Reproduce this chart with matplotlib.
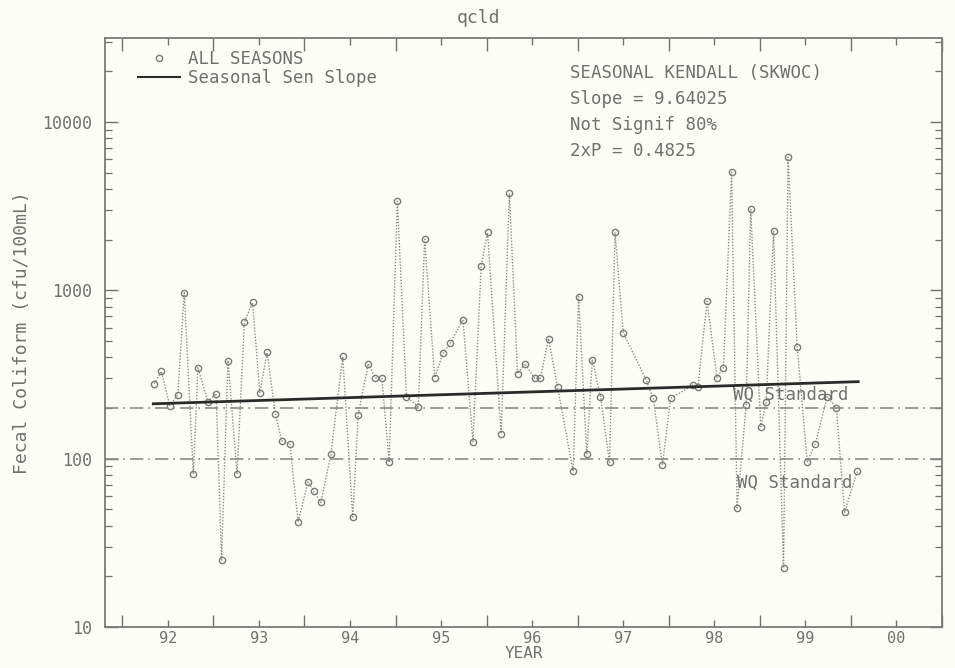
import matplotlib
matplotlib.use("Agg")
import matplotlib.pyplot as plt
from matplotlib.lines import Line2D
from matplotlib.ticker import FixedLocator, LogLocator, NullFormatter

# Dados (ano decimal, coliformes cfu/100mL)
anos = [1992.35, 1992.43, 1992.52, 1992.61, 1992.68, 1992.78, 1992.83, 1992.94,
        1993.03, 1993.09, 1993.16, 1993.26, 1993.34, 1993.43, 1993.51, 1993.59,
        1993.68, 1993.75, 1993.84, 1993.93, 1994.04, 1994.10, 1994.18, 1994.29,
        1994.42, 1994.53, 1994.59, 1994.70, 1994.78, 1994.85, 1994.93, 1995.02,
        1995.12, 1995.25, 1995.32, 1995.43, 1995.52, 1995.60, 1995.74, 1995.85,
        1995.94, 1996.01, 1996.16, 1996.25, 1996.34, 1996.42, 1996.53, 1996.59,
        1996.68, 1996.78, 1996.95, 1997.01, 1997.10, 1997.16, 1997.25, 1997.35,
        1997.41, 1997.50, 1997.75, 1997.83, 1997.93, 1998.02, 1998.27, 1998.32,
        1998.42, 1998.53, 1998.60, 1998.69, 1998.75, 1998.85, 1998.90, 1999.01,
        1999.07, 1999.15, 1999.26, 1999.31, 1999.41, 1999.52, 1999.61, 1999.74,
        1999.84, 1999.93, 2000.07]
coliformes = [279, 330, 207, 240, 970, 81, 348, 218,
              244, 25, 383, 81, 646, 849, 247, 428,
              185, 128, 123, 42, 73, 64, 55, 106,
              405, 45, 182, 367, 303, 300, 95, 3390,
              234, 204, 2014, 303, 422, 484, 671, 126,
              1390, 2212, 141, 3776, 320, 367, 300, 300,
              518, 265, 84, 920, 106, 388, 234, 95,
              2212, 562, 295, 228, 92, 228, 275, 268,
              861, 303, 348, 5035, 51, 209, 3033, 155,
              218, 2244, 22.4, 6194, 464, 96, 123, 234,
              200, 48, 84]

# Reta de Sen (inicio e fim)
sen_anos = [1992.34, 2000.08]
sen_valores = [212, 287]

padroes = [200, 100]  # padroes de qualidade da agua
rotulos_x = ["92", "93", "94", "95", "96", "97", "98", "99", "00"]
pos_rotulos = [1992.5 + i for i in range(len(rotulos_x))]

cinza = "#707070"
fonte = "DejaVu Sans Mono"
plt.rcParams["font.family"] = fonte

fig = plt.figure(figsize=(9.55, 6.68), dpi=100, facecolor="#fdfdf8")
ax = fig.add_axes([105 / 955, 1 - 627 / 668, 837 / 955, 589 / 668])
ax.set_facecolor("#fdfdf8")

ax.plot(anos, coliformes, color="#8a8a8a", lw=1.0, ls=(0, (1, 1.2)),
        marker="o", ms=4.5, mfc="none", mec="#7a7a7a", mew=1.0)
ax.plot(sen_anos, sen_valores, color="#2a2a2a", lw=2)

for p in padroes:
    ax.axhline(p, color="#8a8a8a", lw=1.2, ls=(0, (8, 3, 1, 3)))

ax.text(1998.71, 240, "WQ Standard", color=cinza, fontsize=12.5, va="center")
ax.text(1998.75, 72, "WQ Standard", color=cinza, fontsize=12.5, va="center")

ax.set_yscale("log")
ax.set_ylim(10, 10 ** 4.5)
ax.set_xlim(1991.81, 2001.0)

ax.set_yticks([10, 100, 1000, 10000])
ax.set_yticklabels(["10", "100", "1000", "10000"])
ax.yaxis.set_minor_locator(LogLocator(base=10, subs=range(2, 10)))
ax.yaxis.set_minor_formatter(NullFormatter())

ax.xaxis.set_major_locator(FixedLocator(pos_rotulos))
ax.set_xticklabels(rotulos_x)
ax.xaxis.set_minor_locator(FixedLocator(list(range(1992, 2002))))

ax.tick_params(which="both", direction="in", top=True, right=True,
               colors=cinza, labelcolor=cinza, labelsize=12)
ax.tick_params(axis="y", which="major", length=9, width=1.0, pad=9)
ax.tick_params(axis="y", which="minor", length=5, width=0.9)
ax.tick_params(axis="x", which="major", length=5, width=1.0, pad=3,
               labelsize=11)
ax.tick_params(axis="x", which="minor", length=9, width=1.0)

for s in ax.spines.values():
    s.set_color("#7a7a7a")
    s.set_linewidth(1.3)

ax.set_xlabel("YEAR", color=cinza, fontsize=11.5, labelpad=0)
ax.set_ylabel("Fecal Coliform (cfu/100mL)", color=cinza, fontsize=13, labelpad=8)
fig.text(478 / 955, 1 - 18 / 668, "qcld", color=cinza, fontsize=13,
         ha="center", va="center")

# Legenda
itens = [Line2D([], [], ls="none", marker="o", ms=4.5, mfc="none", mec="#7a7a7a"),
         Line2D([], [], color="#2a2a2a", lw=1.5)]
ax.legend(itens, ["ALL SEASONS", "Seasonal Sen Slope"], loc="upper left",
          bbox_to_anchor=(0.025, 1.0), frameon=False, fontsize=12.5,
          handlelength=2.4, handletextpad=0.5, labelspacing=0.05,
          labelcolor=cinza, borderaxespad=0.3)

# Resultado do teste
linhas = ["SEASONAL KENDALL (SKWOC)", "Slope = 9.64025",
          "Not Signif 80%", "2xP = 0.4825"]
for i, t in enumerate(linhas):
    ax.text(0.556, 0.941 - i * 0.0445, t, transform=ax.transAxes,
            color=cinza, fontsize=12.5, va="center")

fig.savefig("out.png", dpi=100, facecolor=fig.get_facecolor())
